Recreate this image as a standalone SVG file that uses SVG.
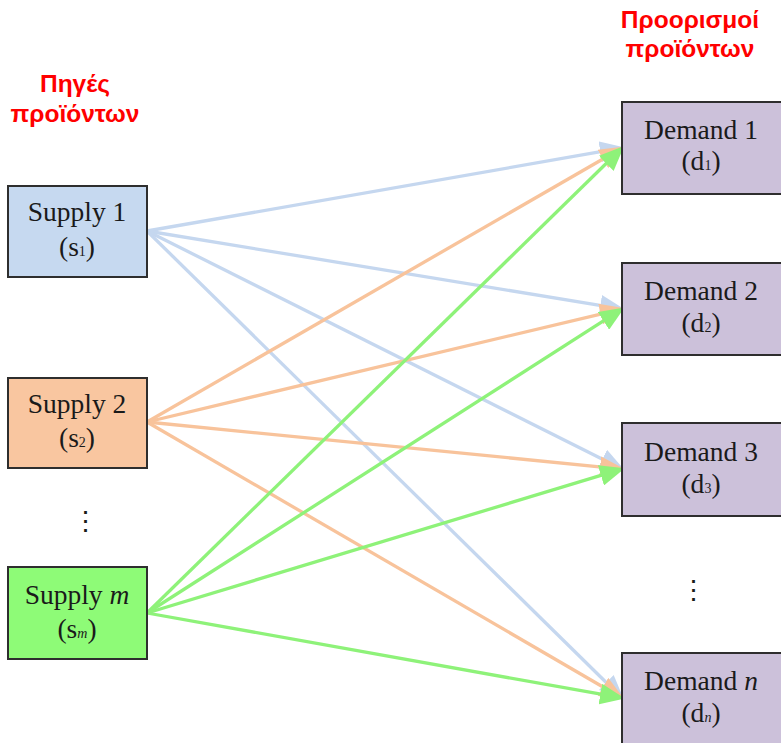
<svg xmlns="http://www.w3.org/2000/svg" width="781" height="743" viewBox="0 0 781 743">
  <style>
    .hdr { font-family: "Liberation Sans", Arial, sans-serif; font-weight: bold; font-size: 24.5px; fill: #ff0000; text-anchor: middle; }
    .lbl { font-family: "Liberation Serif", "Times New Roman", serif; font-size: 27.5px; fill: #1a1a1a; text-anchor: middle; }
    .sub { font-size: 14px; }
    .box { stroke: #2e2e2e; stroke-width: 2; }
    .dots { font-family: "DejaVu Serif", serif; font-size: 27px; fill: #1a1a1a; text-anchor: middle; }
    .ln { fill: none; stroke-width: 3.3; }
    .blue { stroke: #c5d7ef; }
    .orange { stroke: #f8c39b; }
    .green { stroke: #8ef279; }
  </style>
  <defs>
    <marker id="ah-blue" markerUnits="userSpaceOnUse" markerWidth="25" markerHeight="21" refX="12" refY="10.5" orient="auto">
      <path d="M0,0 L25,10.5 L0,21 z" fill="#c5d7ef"/>
    </marker>
    <marker id="ah-orange" markerUnits="userSpaceOnUse" markerWidth="25" markerHeight="21" refX="12" refY="10.5" orient="auto">
      <path d="M0,0 L25,10.5 L0,21 z" fill="#f8c39b"/>
    </marker>
    <marker id="ah-green" markerUnits="userSpaceOnUse" markerWidth="25" markerHeight="21" refX="12" refY="10.5" orient="auto">
      <path d="M0,0 L25,10.5 L0,21 z" fill="#8ef279"/>
    </marker>
  </defs>

  <rect width="781" height="743" fill="#ffffff"/>

  <!-- column headings -->
  <g id="heading-sources">
    <text class="hdr" x="75" y="92">Πηγές</text>
    <text class="hdr" x="75" y="122">προϊόντων</text>
  </g>
  <g id="heading-destinations">
    <text class="hdr" x="690" y="28">Προορισμοί</text>
    <text class="hdr" x="690" y="57">προϊόντων</text>
  </g>

  <!-- supply to demand flows -->
  <g id="connectors">
    <g>
      <line class="ln blue" x1="147" y1="231" x2="612.15" y2="149.72" marker-end="url(#ah-blue)"/>
      <line class="ln blue" x1="147" y1="231" x2="612.13" y2="307.38" marker-end="url(#ah-blue)"/>
      <line class="ln blue" x1="147" y1="231" x2="613.06" y2="464.52" marker-end="url(#ah-blue)"/>
      <line class="ln blue" x1="147" y1="231" x2="614.87" y2="690.99" marker-end="url(#ah-blue)"/>
    </g>
    <g>
      <line class="ln orange" x1="147" y1="422" x2="613.34" y2="153.0" marker-end="url(#ah-orange)"/>
      <line class="ln orange" x1="147" y1="422" x2="612.27" y2="311.31" marker-end="url(#ah-orange)"/>
      <line class="ln orange" x1="147" y1="422" x2="612.05" y2="468.02" marker-end="url(#ah-orange)"/>
      <line class="ln orange" x1="147" y1="422" x2="613.35" y2="692.98" marker-end="url(#ah-orange)"/>
    </g>
    <g>
      <line class="ln green" x1="147" y1="613" x2="614.85" y2="155.0" marker-end="url(#ah-green)"/>
      <line class="ln green" x1="147" y1="613" x2="613.58" y2="314.39" marker-end="url(#ah-green)"/>
      <line class="ln green" x1="147" y1="613" x2="612.43" y2="471.9" marker-end="url(#ah-green)"/>
      <line class="ln green" x1="147" y1="613" x2="612.16" y2="696.24" marker-end="url(#ah-green)"/>
    </g>
  </g>

  <!-- supply nodes -->
  <g id="supply-1">
    <rect class="box" x="8" y="186" width="139" height="91" fill="#c6d9f0"/>
    <text class="lbl" x="77" y="221">Supply 1</text>
    <text class="lbl" x="77" y="256">(s<tspan class="sub">1</tspan>)</text>
  </g>
  <g id="supply-2">
    <rect class="box" x="8" y="378" width="139" height="90" fill="#f9c6a0"/>
    <text class="lbl" x="77" y="413">Supply 2</text>
    <text class="lbl" x="77" y="447">(s<tspan class="sub">2</tspan>)</text>
  </g>
  <g id="supply-dots">
    <text class="dots" x="85" y="530">⋮</text>
  </g>
  <g id="supply-m">
    <rect class="box" x="8" y="567" width="139" height="92" fill="#8efb77"/>
    <text class="lbl" x="77" y="604">Supply <tspan font-style="italic">m</tspan></text>
    <text class="lbl" x="77" y="638">(s<tspan class="sub" font-style="italic">m</tspan>)</text>
  </g>

  <!-- demand nodes -->
  <g id="demand-1">
    <rect class="box" x="622" y="102" width="160" height="92" fill="#ccc1da"/>
    <text class="lbl" x="701" y="139">Demand 1</text>
    <text class="lbl" x="701" y="170">(d<tspan class="sub">1</tspan>)</text>
  </g>
  <g id="demand-2">
    <rect class="box" x="622" y="263" width="160" height="92" fill="#ccc1da"/>
    <text class="lbl" x="701" y="300">Demand 2</text>
    <text class="lbl" x="701" y="332">(d<tspan class="sub">2</tspan>)</text>
  </g>
  <g id="demand-3">
    <rect class="box" x="622" y="423" width="160" height="93" fill="#ccc1da"/>
    <text class="lbl" x="701" y="461">Demand 3</text>
    <text class="lbl" x="701" y="493">(d<tspan class="sub">3</tspan>)</text>
  </g>
  <g id="demand-dots">
    <text class="dots" x="693" y="599">⋮</text>
  </g>
  <g id="demand-n">
    <rect class="box" x="622" y="653" width="160" height="95" fill="#ccc1da"/>
    <text class="lbl" x="701" y="690">Demand <tspan font-style="italic">n</tspan></text>
    <text class="lbl" x="701" y="722">(d<tspan class="sub" font-style="italic">n</tspan>)</text>
  </g>
</svg>
